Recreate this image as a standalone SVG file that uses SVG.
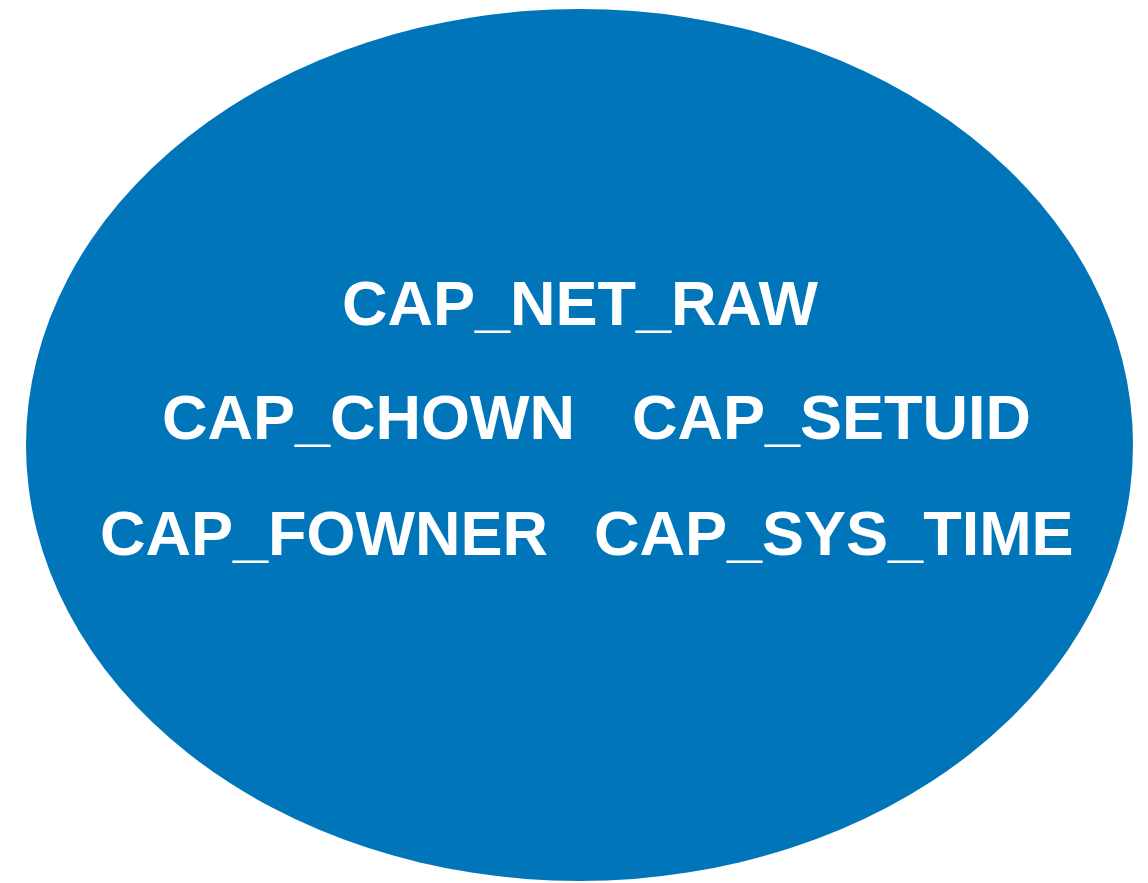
<svg xmlns="http://www.w3.org/2000/svg" width="1148" height="883" viewBox="0 0 1148 883">
  <style>
    .cap { font-family: "Liberation Sans", Arial, sans-serif; font-weight: bold; font-size: 63px; fill: #ffffff; }
  </style>
  <rect width="1148" height="883" fill="#ffffff"/>
  <g id="capabilities">
    <ellipse cx="579.5" cy="445" rx="553.5" ry="436" fill="#0075b9"/>
    <text class="cap" x="342" y="325">CAP_NET_RAW</text>
    <text class="cap" x="162" y="439">CAP_CHOWN</text>
    <text class="cap" x="632" y="439">CAP_SETUID</text>
    <text class="cap" x="100" y="555">CAP_FOWNER</text>
    <text class="cap" x="594" y="555">CAP_SYS_TIME</text>
  </g>
</svg>
